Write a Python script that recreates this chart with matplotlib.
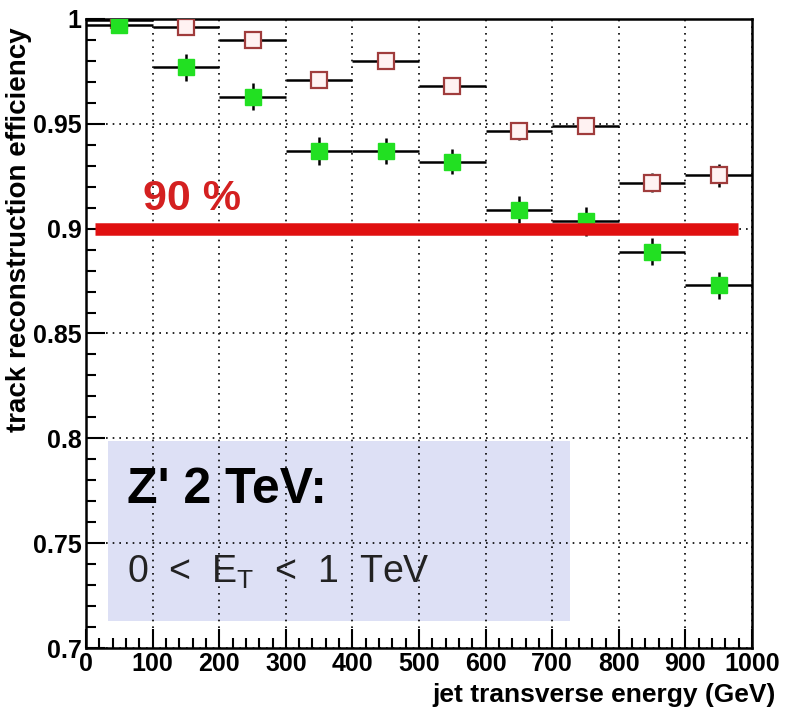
import matplotlib
matplotlib.use("Agg")
import matplotlib.pyplot as plt
from matplotlib.patches import Rectangle
import numpy as np

plt.rcParams['font.family'] = ['Liberation Sans', 'DejaVu Sans']

# bin centres (GeV), half width 50
bins = np.array([50, 150, 250, 350, 450, 550, 650, 750, 850, 950])
half_w = np.full(len(bins), 50)

# filled green points
eff_green = np.array([0.997, 0.977, 0.963, 0.937, 0.937, 0.932, 0.909, 0.9035, 0.889, 0.873])
err_green = np.array([0.002, 0.0065, 0.0065, 0.0065, 0.0060, 0.0060, 0.0065, 0.0070, 0.0065, 0.0065])

# open squares
eff_open = np.array([0.9995, 0.996, 0.990, 0.971, 0.980, 0.968, 0.9465, 0.949, 0.922, 0.9255])
err_open = np.array([0.001, 0.002, 0.002, 0.0040, 0.002, 0.002, 0.0040, 0.0040, 0.0045, 0.0055])

fig = plt.figure(figsize=(7.85, 7.11), dpi=100)
ax = fig.add_axes([0.1096, 0.0886, 0.8484, 0.8847])

ax.set_xlim(0, 1000)
ax.set_ylim(0.7, 1.0)

# legend-like box
ax.add_patch(Rectangle((33, 0.7129), 694, 0.086, facecolor='#dde0f5', edgecolor='none', zorder=1))
ax.text(62, 0.7755, "Z' 2 TeV:", fontsize=36, fontweight='bold', color='black', zorder=2, va='center')
ax.text(62, 0.736, r"0  <  E$_\mathregular{T}$  <  1  TeV", fontsize=27, color='#222222', zorder=2, va='center')

ax.errorbar(bins, eff_open, xerr=half_w, yerr=err_open, fmt='s', ms=12,
            mfc='#fff2f2', mec='#a03c3c', mew=1.6, ecolor='black', elinewidth=1.8,
            capsize=0, zorder=4)
ax.errorbar(bins, eff_green, xerr=half_w, yerr=err_green, fmt='s', ms=12,
            mfc='#22e022', mec='#22e022', ecolor='black', elinewidth=1.8,
            capsize=0, zorder=5)

# 90 % line
ax.plot([14, 979], [0.9, 0.9], color='#e01010', lw=9, solid_capstyle='butt', zorder=6)
ax.text(86, 0.914, "90 %", color='#d42020', fontsize=31, fontweight='bold', va='center', zorder=6)

ax.set_xticks(np.arange(0, 1001, 100))
ax.set_xticks(np.arange(0, 1001, 20), minor=True)
ax.set_yticks([0.7, 0.75, 0.8, 0.85, 0.9, 0.95, 1.0])
ax.set_yticklabels(['0.7', '0.75', '0.8', '0.85', '0.9', '0.95', '1'])
ax.set_yticks(np.arange(0.7, 1.0001, 0.01), minor=True)
ax.tick_params(which='both', direction='in', top=False, right=False, width=1.5)
ax.tick_params(which='major', length=14, labelsize=18, pad=3)
ax.tick_params(which='minor', length=7)
for lab in ax.get_xticklabels() + ax.get_yticklabels():
    lab.set_fontweight('bold')

ax.grid(True, which='major', color='black', linestyle=(0, (1, 3)), lw=1.2, zorder=0)
for s in ax.spines.values():
    s.set_linewidth(1.8)

ax.set_xlabel('jet transverse energy (GeV)', fontsize=19, fontweight='bold', ha='right', va='top')
ax.xaxis.set_label_coords(1.035, -0.055)
ax.set_ylabel('track reconstruction efficiency', fontsize=20, fontweight='bold', va='center')
ax.yaxis.set_label_coords(-0.1, 0.665)

fig.savefig('out.png', dpi=100)
